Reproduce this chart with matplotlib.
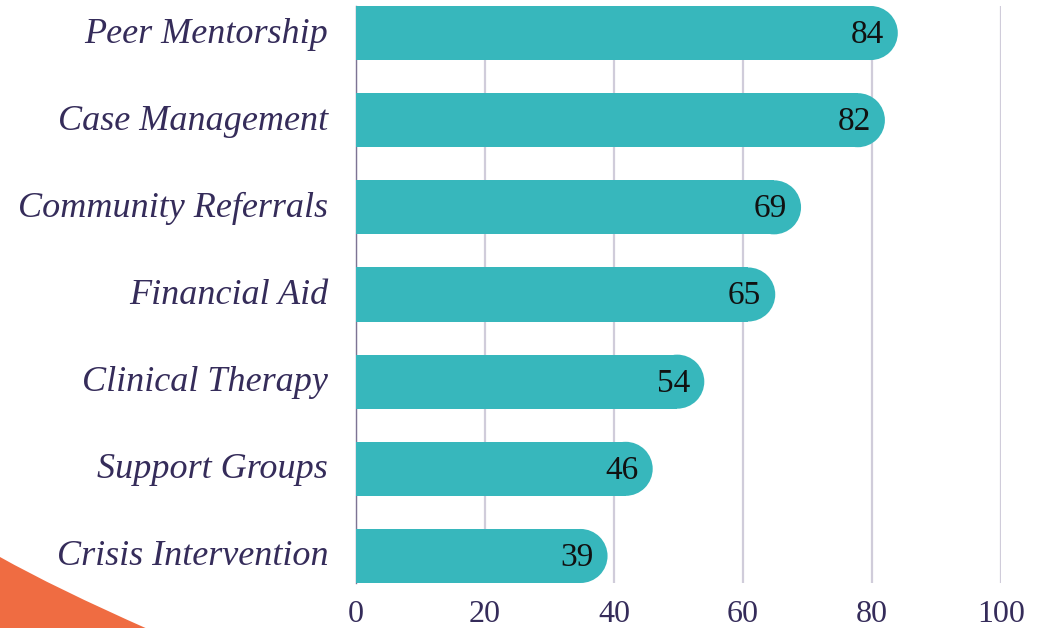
import matplotlib
matplotlib.use("Agg")
import matplotlib.pyplot as plt
from matplotlib.patches import Ellipse, PathPatch
from matplotlib.path import Path
from matplotlib.transforms import ScaledTranslation

# data, top to bottom
services = [
    "Peer Mentorship",
    "Case Management",
    "Community Referrals",
    "Financial Aid",
    "Clinical Therapy",
    "Support Groups",
    "Crisis Intervention",
]
scores = [84, 82, 69, 65, 54, 46, 39]
xticks = [0, 20, 40, 60, 80, 100]

teal = "#37b7bc"
orange = "#ef6c42"
ink = "#352c5a"
gridColour = "#d0ccda"

W, H = 1042, 628
fig = plt.figure(figsize=(W / 100, H / 100), dpi=100)
fig.patch.set_facecolor("white")

# orange corner decoration (figure pixel coords)
verts = [(0, H - 557), (55, H - 588), (150, H - 630), (0, H - 630), (0, H - 557)]
codes = [Path.MOVETO, Path.CURVE3, Path.CURVE3, Path.LINETO, Path.CLOSEPOLY]
fig.patches.append(PathPatch(Path(verts, codes), facecolor=orange,
                             edgecolor="none", transform=None, zorder=0))

ax = fig.add_axes([356 / W, 1 - 583 / H, (1001 - 356) / W, (583 - 6) / H])
ax.set_facecolor("none")

barHeight = 0.62
positions = list(range(len(services)))
ax.set_xlim(0, 100)
ax.set_ylim(len(services) - 1 + barHeight / 2, -barHeight / 2)

# radius of the rounded end, in x data units
axWidthPx = ax.get_position().width * W
axHeightPx = ax.get_position().height * H
pxPerX = axWidthPx / 100
pxPerY = axHeightPx / (len(services) - 1 + barHeight)
rx = (barHeight * pxPerY / 2) / pxPerX

for y, value in zip(positions, scores):
    ax.barh(y, value - rx, height=barHeight, color=teal, zorder=3,
            edgecolor="none")
    ax.add_patch(Ellipse((value - rx, y), 2 * rx, barHeight, facecolor=teal,
                         edgecolor="none", zorder=3))
    ax.text(value - 14 / pxPerX, y + 0.02, str(value), ha="right",
            va="center", fontsize=24, family="Liberation Serif",
            color="#111111", zorder=4)

ax.set_yticks(positions)
ax.set_yticklabels(services, fontsize=26, family="Liberation Serif",
                   style="italic", color=ink)
ax.set_xticks(xticks)
ax.set_xticklabels([str(t) for t in xticks], fontsize=23,
                   family="Liberation Serif", color=ink)
ax.tick_params(axis="both", length=0)
ax.tick_params(axis="y", pad=20)
ax.tick_params(axis="x", pad=12)

# nudge category labels up a little
nudge = ScaledTranslation(0, 3 / 100, fig.dpi_scale_trans)
for label in ax.get_yticklabels():
    label.set_transform(label.get_transform() + nudge)

ax.grid(axis="x", color=gridColour, linewidth=1.6, zorder=0)
ax.grid(axis="y", visible=False)
for side in ["top", "right", "bottom"]:
    ax.spines[side].set_visible(False)
ax.spines["left"].set_color("#7d7494")
ax.spines["left"].set_linewidth(1.0)

fig.savefig("out.png", dpi=100)
